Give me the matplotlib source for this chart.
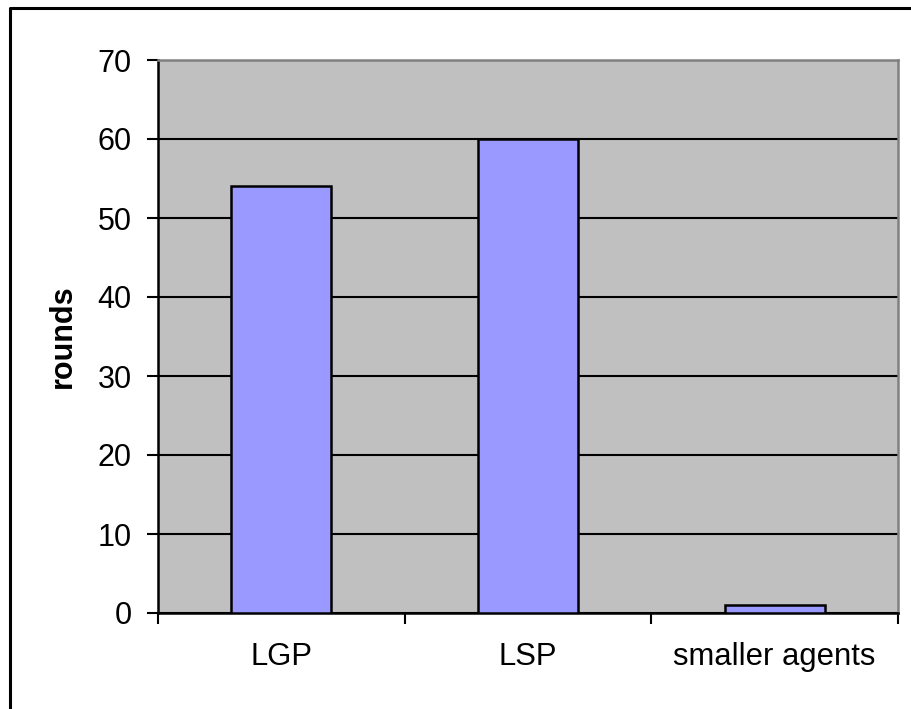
import matplotlib.pyplot as plt
from matplotlib.lines import Line2D

categories = ['LGP', 'LSP', 'smaller agents']
rounds = [54, 60, 1]
y_ticks = [0, 10, 20, 30, 40, 50, 60, 70]

plt.rcParams['font.family'] = ['Liberation Sans', 'DejaVu Sans']

W, H = 912, 709
fig = plt.figure(figsize=(W / 100, H / 100), dpi=100)

# outer chart border (only left and top are visible in the crop)
bx, by = 10.5 / W, 1 - 7.5 / H
fig.lines.append(Line2D([bx, bx, 1.0], [0.0, by, by], transform=fig.transFigure,
                        color='black', linewidth=2.2))

ax = fig.add_axes([158 / W, 1 - 613 / H, (898 - 158) / W, (613 - 60) / H])
ax.set_facecolor('#C0C0C0')

x = list(range(len(categories)))
ax.bar(x, rounds, width=0.405, color='#9999FF', edgecolor='black',
       linewidth=1.8, zorder=3)

ax.set_xlim(-0.5, len(categories) - 0.5)
ax.set_ylim(0, 70)
ax.set_yticks(y_ticks)
ax.yaxis.grid(True, color='black', linewidth=1.5, zorder=1)
ax.set_axisbelow(True)

# category boundary ticks, labels at centers
ax.set_xticks([i - 0.5 for i in range(len(categories) + 1)])
ax.set_xticklabels([])
ax.set_xticks(x, minor=True)
ax.set_xticklabels(categories, minor=True)
ax.tick_params(axis='x', which='minor', length=0, pad=21, labelsize=22.3)
ax.tick_params(axis='x', which='major', length=8, width=1.5, direction='out')
ax.tick_params(axis='y', length=8, width=1.5, direction='out', pad=11,
               labelsize=22)

for side in ['left', 'bottom']:
    ax.spines[side].set_color('black')
    ax.spines[side].set_linewidth(1.8)
for side in ['top', 'right']:
    ax.spines[side].set_color('#808080')
    ax.spines[side].set_linewidth(1.8)

ax.set_ylabel('rounds', fontsize=22, fontweight='bold', labelpad=14)

fig.savefig('out.png', dpi=100)
